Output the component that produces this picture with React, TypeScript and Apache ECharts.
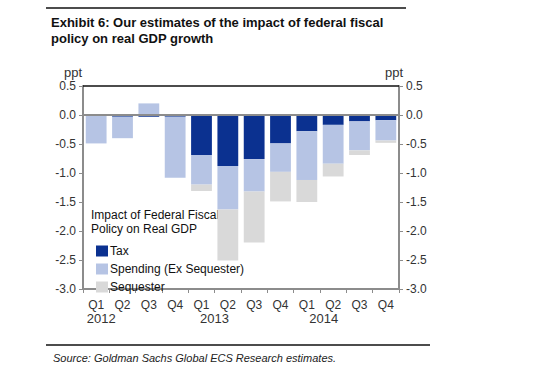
import React, { useEffect, useRef } from "react";
import * as echarts from "echarts";

const categories = [
  "Q1 2012", "Q2 2012", "Q3 2012", "Q4 2012",
  "Q1 2013", "Q2 2013", "Q3 2013", "Q4 2013",
  "Q1 2014", "Q2 2014", "Q3 2014", "Q4 2014",
];
const tax = [0, -0.03, -0.03, -0.03, -0.69, -0.88, -0.76, -0.49, -0.28, -0.17, -0.11, -0.09];
const spending = [-0.49, -0.37, 0.2, -1.05, -0.51, -0.75, -0.56, -0.49, -0.84, -0.67, -0.5, -0.35];
const sequester = [0, 0, 0, 0, -0.11, -0.88, -0.88, -0.51, -0.38, -0.22, -0.08, -0.04];
const yTicks = { min: -3, max: 0.5, interval: 0.5 };

const FONT = "'Liberation Sans', Arial, sans-serif";
const AXIS_GRAY = "#8c8c8c";

export default function App() {
  const ref = useRef<HTMLDivElement>(null);
  useEffect(() => {
    if (!ref.current) return;
    const chart = echarts.init(ref.current, undefined, { renderer: "svg" });
    const yAxisCommon = {
      type: "value",
      min: yTicks.min,
      max: yTicks.max,
      interval: yTicks.interval,
      splitLine: { show: false },
      axisLine: { show: true, lineStyle: { color: AXIS_GRAY, width: 2 } },
      axisTick: { show: true, length: 4, lineStyle: { color: AXIS_GRAY } },
      axisLabel: {
        color: "#333",
        fontSize: 12,
        fontFamily: FONT,
        margin: 7,
        formatter: (v: number) => v.toFixed(1),
      },
    };
    const yearPad: Record<string, number> = { "2012": 10, "2013": 26, "2014": 34 };
    const yearStyle = (y: string) => ({
      fontSize: 13,
      color: "#333",
      padding: [0, 0, 0, yearPad[y]],
      lineHeight: 15,
    });
    chart.setOption({
      animation: false,
      textStyle: { fontFamily: FONT },
      grid: { left: 83, right: 154, top: 86, bottom: 80 },
      title: [
        {
          text: "Exhibit 6: Our estimates of the impact of federal fiscal\npolicy on real GDP growth",
          left: 46,
          top: 9,
          textStyle: { fontSize: 13, fontWeight: "bold", color: "#111", lineHeight: 16, fontFamily: FONT },
        },
        {
          text: "Source: Goldman Sachs Global ECS Research estimates.",
          left: 48,
          top: 347,
          textStyle: { fontSize: 11, fontStyle: "italic", fontWeight: "normal", color: "#222", fontFamily: FONT },
        },
      ],
      legend: {
        orient: "vertical",
        left: 91,
        top: 239,
        icon: "rect",
        itemWidth: 12,
        itemHeight: 11,
        itemGap: 4,
        selectedMode: false,
        textStyle: { fontSize: 12, color: "#111", fontFamily: FONT, lineHeight: 14, padding: [0, 0, 0, -3] },
        data: ["Tax", "Spending (Ex Sequester)", "Sequester"],
      },
      xAxis: {
        type: "category",
        data: categories,
        axisLine: { onZero: false, lineStyle: { color: AXIS_GRAY, width: 2 } },
        axisTick: { show: true, length: 4, lineStyle: { color: AXIS_GRAY } },
        axisLabel: {
          color: "#333",
          fontSize: 12,
          margin: 9,
          lineHeight: 13,
          interval: 0,
          formatter: (v: string) => {
            const [q, y] = v.split(" ");
            if (q === "Q1") return q + "\n{y" + y + "|" + y + "}";
            return q;
          },
          rich: {
            y2012: yearStyle("2012"),
            y2013: yearStyle("2013"),
            y2014: yearStyle("2014"),
          },
        },
      },
      yAxis: [
        { ...yAxisCommon, position: "left" },
        { ...yAxisCommon, position: "right" },
      ],
      graphic: [
        { type: "line", shape: { x1: 46, y1: 8, x2: 406, y2: 8 }, style: { stroke: "#111", lineWidth: 1.5 } },
        { type: "line", shape: { x1: 46, y1: 345, x2: 430, y2: 345 }, style: { stroke: "#111", lineWidth: 1.5 } },
        { type: "text", left: 64, top: 66, style: { text: "ppt", fontSize: 13, fill: "#333", fontFamily: FONT } },
        { type: "text", left: 385, top: 66, style: { text: "ppt", fontSize: 13, fill: "#333", fontFamily: FONT } },
        {
          type: "text",
          left: 91,
          top: 208,
          style: {
            text: "Impact of Federal Fiscal\nPolicy on Real GDP",
            fontSize: 12,
            lineHeight: 14,
            fill: "#111",
            fontFamily: FONT,
          },
        },
      ],
      series: [
        {
          name: "Tax",
          type: "bar",
          stack: "total",
          data: tax,
          barCategoryGap: "21%",
          itemStyle: { color: "#0b3190" },
          markLine: {
            silent: true,
            symbol: "none",
            label: { show: false },
            data: [
              { yAxis: 0, lineStyle: { color: "#8c8c8c", width: 2, type: "solid" } },
              { yAxis: 0.5, lineStyle: { color: "#111", width: 1.5, type: "solid" } },
            ],
          },
        },
        {
          name: "Spending (Ex Sequester)",
          type: "bar",
          stack: "total",
          data: spending,
          barCategoryGap: "21%",
          itemStyle: { color: "#b6c4e4" },
        },
        {
          name: "Sequester",
          type: "bar",
          stack: "total",
          data: sequester,
          barCategoryGap: "21%",
          itemStyle: { color: "#d9d9d9" },
        },
      ],
    });
    return () => chart.dispose();
  }, []);
  return <div ref={ref} style={{ width: 553, height: 369, position: "absolute", left: 0, top: 0, background: "#fff" }} />;
}
